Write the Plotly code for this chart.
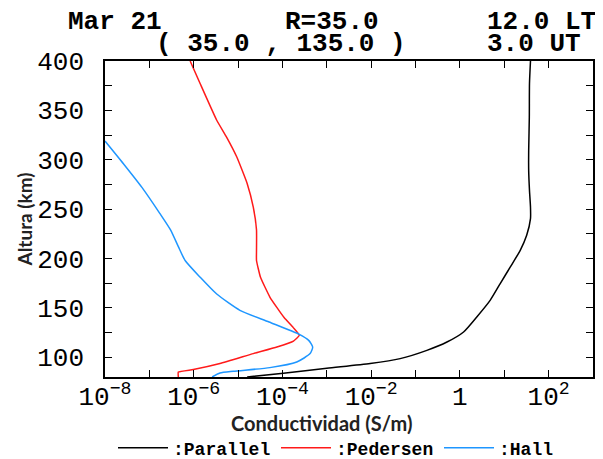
import plotly.graph_objects as go

# Altitudes (km) and conductivities (S/m)
alt_parallel = [80, 83.7, 88.8, 93.6, 98.6, 107, 115.4, 125.6, 140.8, 157.6, 174.6,
                191.5, 208.3, 223.5, 240.4, 252, 269, 289, 309, 343, 377, 400]
sig_parallel = [1.6e-5, 1.05e-4, 1.0e-3, 9.5e-3, 4.5e-2, 0.18, 0.51, 1.21, 2.4, 4.8, 8.1,
                13.7, 22.9, 32, 39, 39, 37, 35.5, 35.5, 36.7, 37, 39]

alt_pedersen = [80, 85, 87.5, 93.6, 103.7, 110.4, 116.4, 122.2, 130, 140, 150, 161, 181, 198,
                208, 229, 252, 276, 303, 323, 340, 377, 400]
sig_pedersen = [4.5e-7, 4.5e-7, 9.8e-7, 3.9e-6, 2.2e-5, 7.5e-5, 1.77e-4, 2.4e-4, 1.75e-4,
                1.1e-4, 7.6e-5, 5.2e-5, 3.2e-5, 2.6e-5, 2.6e-5, 2.6e-5, 2.2e-5, 1.6e-5,
                9.3e-6, 5.5e-6, 3.3e-6, 1.4e-6, 8.3e-7]

alt_hall = [80, 84, 85.8, 89.5, 95.2, 103.7, 110.4, 117.1, 123.2, 135.7, 147.5, 164, 181,
            198, 212, 229, 246, 272, 296, 319]
sig_hall = [2.6e-6, 3.9e-6, 7.8e-6, 5.2e-5, 2.1e-4, 4.2e-4, 4.8e-4, 3.9e-4, 2.4e-4, 5.0e-5,
            1.1e-5, 3.3e-6, 1.4e-6, 6.4e-7, 4.5e-7, 3.0e-7, 1.7e-7, 6.8e-8, 2.6e-8, 1.0e-8]

x_tickvals = [1e-8, 1e-7, 1e-6, 1e-5, 1e-4, 1e-3, 1e-2, 1e-1, 1, 10, 100, 1000]
x_ticktext = ["10<sup>\u22128</sup>", "", "10<sup>\u22126</sup>", "", "10<sup>\u22124</sup>", "",
              "10<sup>\u22122</sup>", "", "1", "", "10<sup>2</sup>", ""]
y_tickvals = [100, 125, 150, 175, 200, 225, 250, 275, 300, 325, 350, 375, 400]
y_ticktext = ["100", "", "150", "", "200", "", "250", "", "300", "", "350", "", "400"]

fig = go.Figure()
fig.add_trace(go.Scatter(x=sig_parallel, y=alt_parallel, mode="lines", name=":Parallel",
                         line=dict(color="black", width=1.5, shape="spline", smoothing=0.6)))
fig.add_trace(go.Scatter(x=sig_pedersen, y=alt_pedersen, mode="lines", name=":Pedersen",
                         line=dict(color="#ff1a1a", width=1.5, shape="spline", smoothing=0.4)))
fig.add_trace(go.Scatter(x=sig_hall, y=alt_hall, mode="lines", name=":Hall",
                         line=dict(color="#1e96ff", width=1.5, shape="spline", smoothing=0.6)))

tickfont = dict(family="Liberation Mono", size=26, color="black")
fig.update_xaxes(type="log", range=[-8, 3], tickmode="array", tickvals=x_tickvals,
                 ticktext=x_ticktext, ticks="inside", ticklen=7, tickcolor="black",
                 showline=True, linecolor="black", linewidth=1.5, mirror="ticks",
                 showgrid=False, zeroline=False, tickfont=tickfont, automargin=False,
                 ticklabelstandoff=-5)
fig.update_yaxes(range=[80, 400], tickmode="array", tickvals=y_tickvals,
                 ticktext=y_ticktext, ticks="inside", ticklen=7, tickcolor="black",
                 showline=True, linecolor="black", linewidth=1.5, mirror="ticks",
                 showgrid=False, zeroline=False, tickfont=tickfont, ticklabelstandoff=14,
                 automargin=False,
                 title=dict(text="<b>Altura (km)</b>",
                            font=dict(family="Lato", size=19, color="#222"), standoff=0))

# page body has an 8px margin: figure is drawn 8px right/down of the window corner
OFF = 8
W, H = 603 - OFF, 459 - OFF
L, R, T, B = 105 - OFF, 10, 61 - OFF, 82
pw, ph = W - L - R, H - T - B

def px(x):
    return (x - OFF - L) / pw

def py(y):
    return (H - B - (y - OFF)) / ph

title_font = dict(family="Liberation Mono", size=26, color="black")
heads = [("<b>Mar 21</b>", 66, 22), ("<b>R=35.0</b>", 283, 22), ("<b>12.0 LT</b>", 485, 22),
         ("<b>( 35.0 , 135.0 )</b>", 154, 44), ("<b>3.0 UT</b>", 485, 44)]
for txt, x0, y0 in heads:
    fig.add_annotation(text=txt, x=px(x0), y=py(y0), xref="paper", yref="paper",
                       xanchor="left", yanchor="middle", showarrow=False, font=title_font)

fig.add_annotation(text="<b>Conductividad (S/m)</b>", x=px(321), y=py(423), xref="paper",
                   yref="paper", xanchor="center", yanchor="middle", showarrow=False,
                   font=dict(family="Lato", size=20, color="#222"))

fig.update_layout(
    width=W, height=H, margin=dict(l=L, r=R, t=T, b=B, autoexpand=False),
    paper_bgcolor="white", plot_bgcolor="white",
    showlegend=True,
    legend=dict(orientation="h", x=px(113), y=py(448), xanchor="left", yanchor="middle",
                font=dict(family="Liberation Mono", size=18, color="black"),
                itemwidth=50, entrywidth=98, entrywidthmode="pixels",
                bgcolor="rgba(0,0,0,0)"),
)
for tr in fig.data:
    tr.name = "<b>" + tr.name + "</b>"

fig.write_html("out.html")
